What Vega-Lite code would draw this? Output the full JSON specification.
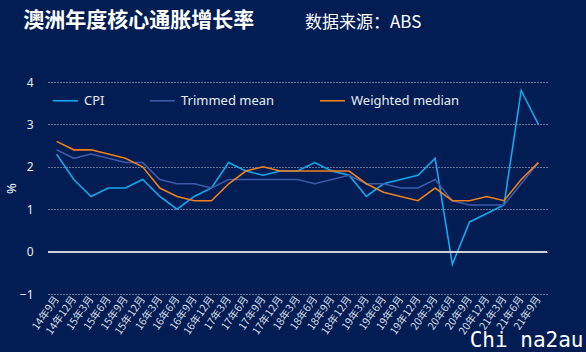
{
  "$schema": "https://vega.github.io/schema/vega-lite/v6.json",
  "background": "#011d54",
  "padding": {"left": 5, "top": 10, "right": 5, "bottom": 5},
  "title": {"text": "澳洲年度核心通胀增长率", "anchor": "start", "frame": "bounds", "font": "Noto Sans CJK SC", "fontSize": 21, "fontWeight": "bold", "color": "#ffffff", "dx": 18, "dy": 21},
  "config": {
    "view": {"stroke": null},
    "font": "Noto Sans, Noto Sans CJK SC",
    "concat": {"spacing": 0}
  },
  "datasets": {
    "d": [
      {"q": "14年9月", "s": "CPI", "v": 2.3}, {"q": "14年12月", "s": "CPI", "v": 1.7}, {"q": "15年3月", "s": "CPI", "v": 1.3}, {"q": "15年6月", "s": "CPI", "v": 1.5}, {"q": "15年9月", "s": "CPI", "v": 1.5}, {"q": "15年12月", "s": "CPI", "v": 1.7}, {"q": "16年3月", "s": "CPI", "v": 1.3}, {"q": "16年6月", "s": "CPI", "v": 1.0}, {"q": "16年9月", "s": "CPI", "v": 1.3}, {"q": "16年12月", "s": "CPI", "v": 1.5}, {"q": "17年3月", "s": "CPI", "v": 2.1}, {"q": "17年6月", "s": "CPI", "v": 1.9}, {"q": "17年9月", "s": "CPI", "v": 1.8}, {"q": "17年12月", "s": "CPI", "v": 1.9}, {"q": "18年3月", "s": "CPI", "v": 1.9}, {"q": "18年6月", "s": "CPI", "v": 2.1}, {"q": "18年9月", "s": "CPI", "v": 1.9}, {"q": "18年12月", "s": "CPI", "v": 1.8}, {"q": "19年3月", "s": "CPI", "v": 1.3}, {"q": "19年6月", "s": "CPI", "v": 1.6}, {"q": "19年9月", "s": "CPI", "v": 1.7}, {"q": "19年12月", "s": "CPI", "v": 1.8}, {"q": "20年3月", "s": "CPI", "v": 2.2}, {"q": "20年6月", "s": "CPI", "v": -0.3}, {"q": "20年9月", "s": "CPI", "v": 0.7}, {"q": "20年12月", "s": "CPI", "v": 0.9}, {"q": "21年3月", "s": "CPI", "v": 1.1}, {"q": "21年6月", "s": "CPI", "v": 3.8}, {"q": "21年9月", "s": "CPI", "v": 3.0},
      {"q": "14年9月", "s": "Trimmed mean", "v": 2.4}, {"q": "14年12月", "s": "Trimmed mean", "v": 2.2}, {"q": "15年3月", "s": "Trimmed mean", "v": 2.3}, {"q": "15年6月", "s": "Trimmed mean", "v": 2.2}, {"q": "15年9月", "s": "Trimmed mean", "v": 2.1}, {"q": "15年12月", "s": "Trimmed mean", "v": 2.1}, {"q": "16年3月", "s": "Trimmed mean", "v": 1.7}, {"q": "16年6月", "s": "Trimmed mean", "v": 1.6}, {"q": "16年9月", "s": "Trimmed mean", "v": 1.6}, {"q": "16年12月", "s": "Trimmed mean", "v": 1.5}, {"q": "17年3月", "s": "Trimmed mean", "v": 1.7}, {"q": "17年6月", "s": "Trimmed mean", "v": 1.7}, {"q": "17年9月", "s": "Trimmed mean", "v": 1.7}, {"q": "17年12月", "s": "Trimmed mean", "v": 1.7}, {"q": "18年3月", "s": "Trimmed mean", "v": 1.7}, {"q": "18年6月", "s": "Trimmed mean", "v": 1.6}, {"q": "18年9月", "s": "Trimmed mean", "v": 1.7}, {"q": "18年12月", "s": "Trimmed mean", "v": 1.8}, {"q": "19年3月", "s": "Trimmed mean", "v": 1.6}, {"q": "19年6月", "s": "Trimmed mean", "v": 1.6}, {"q": "19年9月", "s": "Trimmed mean", "v": 1.5}, {"q": "19年12月", "s": "Trimmed mean", "v": 1.5}, {"q": "20年3月", "s": "Trimmed mean", "v": 1.7}, {"q": "20年6月", "s": "Trimmed mean", "v": 1.2}, {"q": "20年9月", "s": "Trimmed mean", "v": 1.1}, {"q": "20年12月", "s": "Trimmed mean", "v": 1.1}, {"q": "21年3月", "s": "Trimmed mean", "v": 1.1}, {"q": "21年6月", "s": "Trimmed mean", "v": 1.6}, {"q": "21年9月", "s": "Trimmed mean", "v": 2.1},
      {"q": "14年9月", "s": "Weighted median", "v": 2.6}, {"q": "14年12月", "s": "Weighted median", "v": 2.4}, {"q": "15年3月", "s": "Weighted median", "v": 2.4}, {"q": "15年6月", "s": "Weighted median", "v": 2.3}, {"q": "15年9月", "s": "Weighted median", "v": 2.2}, {"q": "15年12月", "s": "Weighted median", "v": 2.0}, {"q": "16年3月", "s": "Weighted median", "v": 1.5}, {"q": "16年6月", "s": "Weighted median", "v": 1.3}, {"q": "16年9月", "s": "Weighted median", "v": 1.2}, {"q": "16年12月", "s": "Weighted median", "v": 1.2}, {"q": "17年3月", "s": "Weighted median", "v": 1.6}, {"q": "17年6月", "s": "Weighted median", "v": 1.9}, {"q": "17年9月", "s": "Weighted median", "v": 2.0}, {"q": "17年12月", "s": "Weighted median", "v": 1.9}, {"q": "18年3月", "s": "Weighted median", "v": 1.9}, {"q": "18年6月", "s": "Weighted median", "v": 1.9}, {"q": "18年9月", "s": "Weighted median", "v": 1.9}, {"q": "18年12月", "s": "Weighted median", "v": 1.9}, {"q": "19年3月", "s": "Weighted median", "v": 1.6}, {"q": "19年6月", "s": "Weighted median", "v": 1.4}, {"q": "19年9月", "s": "Weighted median", "v": 1.3}, {"q": "19年12月", "s": "Weighted median", "v": 1.2}, {"q": "20年3月", "s": "Weighted median", "v": 1.5}, {"q": "20年6月", "s": "Weighted median", "v": 1.2}, {"q": "20年9月", "s": "Weighted median", "v": 1.2}, {"q": "20年12月", "s": "Weighted median", "v": 1.3}, {"q": "21年3月", "s": "Weighted median", "v": 1.2}, {"q": "21年6月", "s": "Weighted median", "v": 1.7}, {"q": "21年9月", "s": "Weighted median", "v": 2.1}
    ]
  },
  "vconcat": [
    {
      "title": {"text": "数据来源：ABS", "anchor": "start", "frame": "group", "font": "Noto Sans CJK SC", "fontSize": 17, "fontWeight": "normal", "color": "#ffffff", "dx": 257, "offset": 44},
      "width": 499,
      "height": 212,
      "data": {"name": "d"},
      "layer": [
        {
          "mark": {"type": "line", "strokeWidth": 1.6},
          "encoding": {
            "x": {"field": "q", "type": "ordinal", "sort": null, "scale": {"type": "point", "padding": 0.5},
              "axis": {"title": "Chi na2au", "titleFont": "DejaVu Sans Mono", "titleFontSize": 21, "titleFontWeight": "normal", "titleColor": "#ffffff", "titleAlign": "right", "titleBaseline": "alphabetic", "titleAnchor": null, "titleX": 535, "titleY": 52,
                "labelAngle": -55, "labelFontSize": 10.5, "labelColor": "#d8dce6", "labelPadding": 3, "domain": false, "ticks": false, "tickSize": 0, "grid": false, "labelFont": "Noto Sans CJK SC"}},
            "y": {"field": "v", "type": "quantitative", "scale": {"domain": [-1, 4], "nice": false},
              "axis": {"title": "%", "titleColor": "#ffffff", "titleFontSize": 13, "titleFontWeight": "normal", "titlePadding": 1,
                "values": [-1, 0, 1, 2, 3, 4], "labelFontSize": 12, "labelColor": "#e6e8ee", "labelPadding": 15, "domain": false, "ticks": false, "tickSize": 0,
                "grid": true, "gridColor": "#c8ccd8", "gridDash": [1, 2], "gridWidth": 1}},
            "color": {"field": "s", "type": "nominal", "scale": {"domain": ["CPI", "Trimmed mean", "Weighted median"], "range": ["#14a8ea", "#3d5aa6", "#f0801e"]},
              "legend": {"title": null, "orient": "none", "legendX": 4, "legendY": 5, "direction": "horizontal", "symbolType": "stroke", "symbolSize": 625, "symbolStrokeWidth": 1.6, "labelOffset": 5, "columnPadding": 41, "labelFontSize": 13, "labelColor": "#e8eaf0"}}
          }
        },
        {
          "mark": {"type": "rule", "color": "#d0d2d8", "strokeWidth": 1.2},
          "encoding": {"y": {"datum": 0, "type": "quantitative"}}
        }
      ]
    }
  ]
}
